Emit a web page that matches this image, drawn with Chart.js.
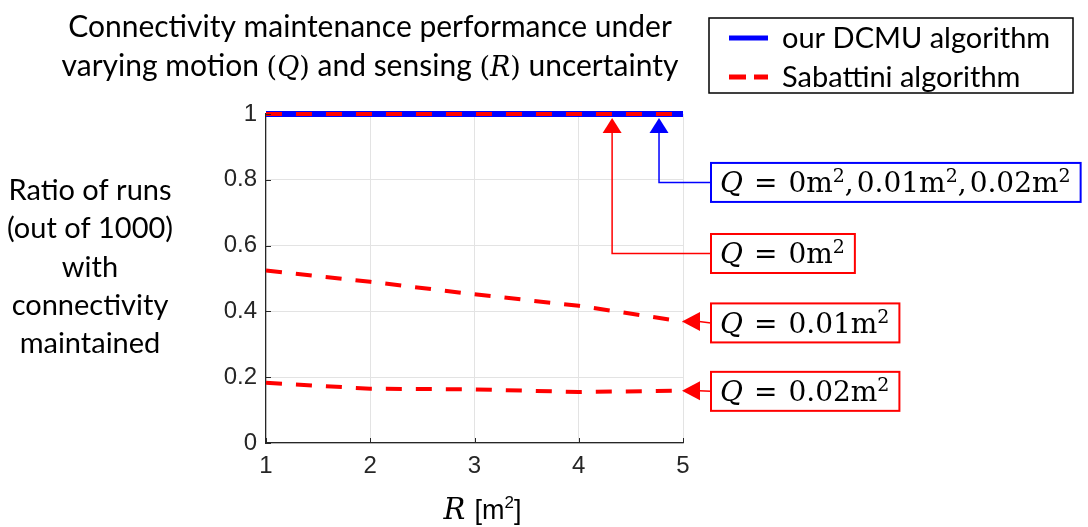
<!DOCTYPE html>
<html>
<head>
<meta charset="utf-8">
<script src="https://cdn.jsdelivr.net/npm/chart.js@4/dist/chart.umd.min.js"></script>
<style>
  html, body { margin: 0; padding: 0; background: #fff; }
  #wrap { width: 1088px; height: 527px; }
</style>
</head>
<body>
<div id="wrap"><canvas id="connectivity" width="1088" height="527"></canvas></div>
<script>
// R values on the x axis [m^2]
const rValues = [1, 2, 3, 4, 5];
// our DCMU algorithm: same ratio for Q = 0, 0.01, 0.02
const dcmuQ0 = [1, 1, 1, 1, 1];
const dcmuQ001 = [1, 1, 1, 1, 1];
const dcmuQ002 = [1, 1, 1, 1, 1];
// Sabattini algorithm
const sabQ0 = [1, 1, 1, 1, 1];
const sabQ001 = [0.524, 0.490, 0.452, 0.417, 0.369];
const sabQ002 = [0.183, 0.165, 0.163, 0.155, 0.159];

const xTicks = [1, 2, 3, 4, 5];
const yTicks = [0, 0.2, 0.4, 0.6, 0.8, 1];

const titleLines = ['Connectivity maintenance performance under', 'varying motion (Q) and sensing (R) uncertainty'];
const yLabelLines = ['Ratio of runs', '(out of 1000)', 'with', 'connectivity', 'maintained'];
const legendLabels = ['our DCMU algorithm', 'Sabattini algorithm'];

// callouts: where the arrow points (x, y in data units) and label row (y in data units)
const callouts = [
    { kind: 'up', x: 4.77, y: 1, labelY: 0.792, color: '#0000ff', q: ['0', '0.01', '0.02'] },
    { kind: 'up', x: 4.32, y: 1, labelY: 0.576, color: '#ff0000', q: ['0'] },
    { kind: 'left', x: 5, y: sabQ001[4], labelY: 0.365, color: '#ff0000', q: ['0.01'] },
    { kind: 'left', x: 5, y: sabQ002[4], labelY: 0.157, color: '#ff0000', q: ['0.02'] }
];

const BLUE = '#0000ff';
const RED = '#ff0000';
const AXIS = '#262626';
const SANS = 'Lato, "Open Sans", sans-serif';
const SERIF = '"DejaVu Serif", "Liberation Serif", serif';
const ARIAL = '"Liberation Sans", Arial, sans-serif';

const toPoints = ys => rValues.map((r, i) => ({ x: r, y: ys[i] }));

function segWidth(ctx, segs) {
    let w = 0;
    segs.forEach(s => {
        if (s.gap) { w += s.gap; return; }
        ctx.font = s.f;
        w += ctx.measureText(s.t).width;
    });
    return w;
}

function drawSegs(ctx, segs, x, y, align) {
    let cx = x;
    if (align === 'center') cx = x - segWidth(ctx, segs) / 2;
    ctx.textBaseline = 'alphabetic';
    ctx.textAlign = 'left';
    segs.forEach(s => {
        if (s.gap) { cx += s.gap; return; }
        ctx.font = s.f;
        ctx.fillText(s.t, cx, y - (s.up || 0));
        cx += ctx.measureText(s.t).width;
    });
}

function mathLabel(values, size) {
    const segs = [
        { t: 'Q', f: `italic ${size}px ${SERIF}` },
        { gap: 11 },
        { t: '=', f: `${size}px ${SERIF}` },
        { gap: 11 }
    ];
    values.forEach((v, i) => {
        if (i > 0) { segs.push({ t: ',', f: `${size}px ${SERIF}` }); segs.push({ gap: 3 }); }
        segs.push({ t: v + 'm', f: `${size}px ${SERIF}` });
        segs.push({ t: '2', f: `${Math.round(size * 0.68)}px ${SERIF}`, up: 10 });
    });
    return segs;
}

const decorations = {
    id: 'decorations',
    afterDatasetsDraw(chart) {
        const { ctx, chartArea, scales } = chart;
        const xs = scales.x, ys = scales.y;
        ctx.save();

        // inward tick marks
        ctx.strokeStyle = AXIS;
        ctx.lineWidth = 1;
        xTicks.forEach(t => {
            const px = Math.round(xs.getPixelForValue(t)) + 0.5;
            ctx.beginPath();
            ctx.moveTo(px, chartArea.bottom);
            ctx.lineTo(px, chartArea.bottom - 5);
            ctx.stroke();
        });
        yTicks.forEach(t => {
            const py = Math.round(ys.getPixelForValue(t)) + 0.5;
            ctx.beginPath();
            ctx.moveTo(chartArea.left, py);
            ctx.lineTo(chartArea.left + 5, py);
            ctx.stroke();
        });

        // callouts
        const boxLeft = chartArea.right + 28;
        const mathSize = 28;
        callouts.forEach(c => {
            const tx = xs.getPixelForValue(c.x);
            const ty = ys.getPixelForValue(c.y);
            const ly = ys.getPixelForValue(c.labelY);
            ctx.strokeStyle = c.color;
            ctx.fillStyle = c.color;
            ctx.lineWidth = 1.5;
            ctx.beginPath();
            if (c.kind === 'up') {
                const tip = ty + 4;
                ctx.moveTo(tx, tip + 15);
                ctx.lineTo(tx, ly);
                ctx.lineTo(boxLeft, ly);
                ctx.stroke();
                ctx.beginPath();
                ctx.moveTo(tx, tip);
                ctx.lineTo(tx - 9.5, tip + 15);
                ctx.lineTo(tx + 9.5, tip + 15);
                ctx.closePath();
                ctx.fill();
            } else {
                const tip = tx - 1;
                ctx.moveTo(tip + 17, ty);
                ctx.lineTo(boxLeft, ly);
                ctx.stroke();
                ctx.beginPath();
                ctx.moveTo(tip, ty);
                ctx.lineTo(tip + 18, ty - 9.5);
                ctx.lineTo(tip + 18, ty + 9.5);
                ctx.closePath();
                ctx.fill();
            }
            const segs = mathLabel(c.q, mathSize);
            const w = segWidth(ctx, segs);
            ctx.fillStyle = '#fff';
            ctx.fillRect(boxLeft, ly - 19.5, w + 19, 39);
            ctx.lineWidth = 2;
            ctx.strokeRect(boxLeft, ly - 19.5, w + 19, 39);
            ctx.fillStyle = '#000';
            drawSegs(ctx, segs, boxLeft + 9, ly + 10, 'left');
        });

        ctx.restore();
    },
    afterDraw(chart) {
        const { ctx, chartArea } = chart;
        ctx.save();
        ctx.fillStyle = '#000';

        // title
        const tSize = 30;
        drawSegs(ctx, [{ t: titleLines[0], f: `${tSize}px ${SANS}` }], 370, 37, 'center');
        const parts = titleLines[1].split(/(\(Q\)|\(R\))/);
        const line2 = [];
        parts.forEach(p => {
            if (p === '(Q)' || p === '(R)') {
                line2.push({ t: '(', f: `${tSize - 3}px ${SERIF}` });
                line2.push({ t: p[1], f: `italic ${tSize - 3}px ${SERIF}` });
                line2.push({ t: ')', f: `${tSize - 3}px ${SERIF}` });
            } else if (p) {
                line2.push({ t: p, f: `${tSize}px ${SANS}` });
            }
        });
        drawSegs(ctx, line2, 370, 76, 'center');

        // y axis label
        yLabelLines.forEach((line, i) => {
            drawSegs(ctx, [{ t: line, f: `29px ${SANS}` }], 90, 200 + i * 38.3, 'center');
        });

        // x axis label
        const xl = [
            { t: 'R', f: `italic 29px ${SERIF}` },
            { gap: 9 },
            { t: '[m', f: `27px ${ARIAL}` },
            { t: '2', f: `17px ${ARIAL}`, up: 11 },
            { t: ']', f: `27px ${ARIAL}` }
        ];
        drawSegs(ctx, xl, (chartArea.left + chartArea.right) / 2 + 8, 519, 'center');

        // legend
        const lx = chartArea.right + 26, ly = 18, lw = 364, lh = 75;
        ctx.fillStyle = '#fff';
        ctx.fillRect(lx, ly, lw, lh);
        ctx.strokeStyle = '#000';
        ctx.lineWidth = 1.5;
        ctx.strokeRect(lx, ly, lw, lh);
        const rows = [ly + 20, ly + 59];
        ctx.lineWidth = 5;
        ctx.strokeStyle = BLUE;
        ctx.setLineDash([]);
        ctx.beginPath();
        ctx.moveTo(lx + 20, rows[0]);
        ctx.lineTo(lx + 59, rows[0]);
        ctx.stroke();
        ctx.strokeStyle = RED;
        ctx.setLineDash([17, 8]);
        ctx.beginPath();
        ctx.moveTo(lx + 20, rows[1]);
        ctx.lineTo(lx + 59, rows[1]);
        ctx.stroke();
        ctx.setLineDash([]);
        ctx.fillStyle = '#000';
        legendLabels.forEach((lab, i) => {
            drawSegs(ctx, [{ t: lab, f: `29px ${SANS}` }], lx + 73, rows[i] + 10, 'left');
        });

        ctx.restore();
    }
};

const ctx = document.getElementById('connectivity').getContext('2d');

// lower "order" is drawn on top, so the red dashes sit over the blue line
const dcmuStyle = { borderColor: BLUE, borderWidth: 6, pointRadius: 0, fill: false, clip: false, order: 2 };
const sabStyle = { borderColor: RED, borderWidth: 4, borderDash: [16, 14], pointRadius: 0, fill: false, clip: false, order: 1 };

const connectivityChart = new Chart(ctx, {
    type: 'line',
    data: {
        datasets: [
            { label: 'DCMU Q=0', data: toPoints(dcmuQ0), ...dcmuStyle },
            { label: 'DCMU Q=0.01', data: toPoints(dcmuQ001), ...dcmuStyle },
            { label: 'DCMU Q=0.02', data: toPoints(dcmuQ002), ...dcmuStyle },
            { label: 'Sabattini Q=0', data: toPoints(sabQ0), ...sabStyle },
            { label: 'Sabattini Q=0.01', data: toPoints(sabQ001), ...sabStyle },
            { label: 'Sabattini Q=0.02', data: toPoints(sabQ002), ...sabStyle }
        ]
    },
    options: {
        responsive: false,
        animation: false,
        layout: { padding: { left: 0, top: 114, right: 405, bottom: 0 } },
        plugins: {
            legend: { display: false },
            tooltip: { enabled: false },
            title: { display: false }
        },
        scales: {
            x: {
                type: 'linear',
                min: 1,
                max: 5,
                afterBuildTicks: scale => { scale.ticks = xTicks.map(v => ({ value: v })); },
                afterFit: scale => { scale.height = 84; },
                ticks: {
                    color: AXIS,
                    font: { family: ARIAL, size: 24 },
                    padding: 9,
                    maxRotation: 0,
                    callback: v => String(v)
                },
                grid: { color: '#e3e3e3', drawTicks: false },
                border: { color: AXIS, width: 1.2 }
            },
            y: {
                min: 0,
                max: 1,
                afterBuildTicks: scale => { scale.ticks = yTicks.map(v => ({ value: v })); },
                afterFit: scale => { scale.width = 266; },
                ticks: {
                    color: AXIS,
                    font: { family: ARIAL, size: 24 },
                    padding: 9,
                    callback: v => String(+v.toFixed(1))
                },
                grid: { color: '#e3e3e3', drawTicks: false },
                border: { color: AXIS, width: 1.2 }
            }
        }
    },
    plugins: [decorations]
});
</script>
</body>
</html>
